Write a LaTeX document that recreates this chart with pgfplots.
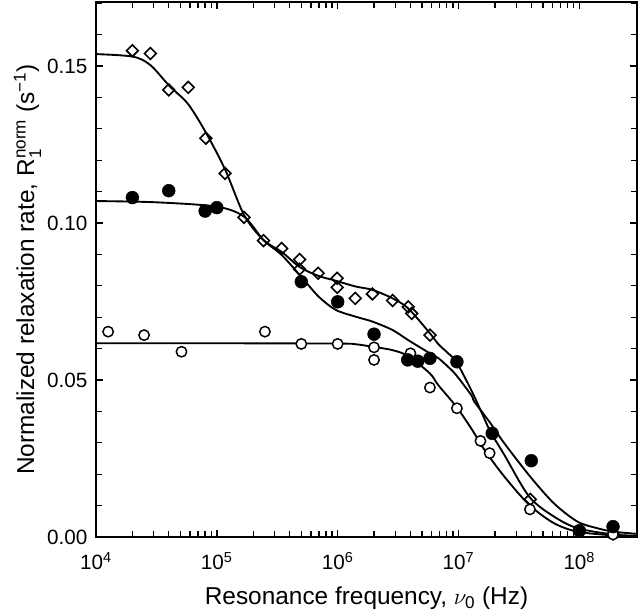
\documentclass[border=0pt]{standalone}
\usepackage{fontspec}
\setmainfont{Liberation Sans}
\usepackage{amsmath}
\usepackage{pgfplots}
\pgfplotsset{compat=1.18}
\usetikzlibrary{calc}

\pgfplotstableread{
f v
1e4 0.1538
2.018e4 0.1530
2.818e4 0.1503
4.064e4 0.1436
5.754e4 0.1380
8.147e4 0.1287
1.175e5 0.1169
1.683e5 0.1025
2.427e5 0.0946
3.443e5 0.0908
4.842e5 0.0860
6.887e5 0.0832
9.683e5 0.0816
1.4e6 0.0798
1.941e6 0.0787
2.851e6 0.0760
3.837e6 0.0728
5.794e6 0.0649
6.792e6 0.0615
8.204e6 0.0585
9.594e6 0.0558
1.274e7 0.0468
1.542e7 0.0399
1.841e7 0.0335
2.399e7 0.0261
3.855e7 0.0128
6.166e7 0.0065
9.638e7 0.0028
1.905e8 0.0008
3e8 0.0004
}\curveDiamond

\pgfplotstableread{
f v
1e4 0.1070
3.162e4 0.1066
1.005e5 0.1052
1.683e5 0.1020
2.427e5 0.0946
3.443e5 0.0898
4.989e5 0.0829
6.982e5 0.0765
9.683e5 0.0723
1.4e6 0.0702
1.941e6 0.0686
2.851e6 0.0659
3.837e6 0.0627
5.794e6 0.0585
6.792e6 0.0570
8.204e6 0.0542
9.594e6 0.0515
1.274e7 0.0452
1.358e7 0.0430
1.841e7 0.0362
2.399e7 0.0298
3.926e7 0.0192
6.166e7 0.0107
9.638e7 0.0049
1.406e8 0.0028
1.905e8 0.0017
3e8 0.0010
}\curveFilled

\pgfplotstableread{
f v
1e4 0.0617
1e5 0.0617
1e6 0.0616
1.4e6 0.0614
1.941e6 0.0606
2.851e6 0.0595
3.837e6 0.0576
5.794e6 0.0521
6.792e6 0.0484
9.594e6 0.0415
1.274e7 0.0346
1.644e7 0.0277
2.399e7 0.0192
3.855e7 0.0102
6.166e7 0.0044
9.638e7 0.0017
1.905e8 0.0005
3e8 0.0003
}\curveOpen

\pgfplotstableread{
f v
2.0e4 0.1549
2.82e4 0.1540
4.0e4 0.1424
5.8e4 0.1432
8.1e4 0.1270
1.17e5 0.1158
1.68e5 0.1018
2.43e5 0.0944
3.44e5 0.0919
4.84e5 0.0884
4.84e5 0.0853
6.9e5 0.0840
9.9e5 0.0824
9.9e5 0.0795
1.4e6 0.0760
1.94e6 0.0774
2.85e6 0.0753
3.84e6 0.0733
4.1e6 0.0712
5.8e6 0.0643
3.93e7 0.0120
1.9e8 0.0010
}\dataDiamond

\pgfplotstableread{
f v
2.0e4 0.1081
4.0e4 0.1103
8.0e4 0.1038
1.0e5 0.1049
5.0e5 0.0813
1.0e6 0.0749
2.0e6 0.0646
3.8e6 0.0564
4.6e6 0.0560
5.8e6 0.0569
9.7e6 0.0558
1.9e7 0.0330
4.0e7 0.0243
1.0e8 0.0020
1.9e8 0.0033
}\dataFilled

\pgfplotstableread{
f v
1.26e4 0.0654
2.5e4 0.0643
5.1e4 0.0590
2.5e5 0.0654
5.0e5 0.0615
1.0e6 0.0615
2.0e6 0.0604
2.0e6 0.0564
4.0e6 0.0585
5.8e6 0.0476
9.7e6 0.0410
1.52e7 0.0306
1.81e7 0.0267
3.9e7 0.0088
1.9e8 0.0008
}\dataOpen

\begin{document}
\begin{tikzpicture}
\begin{axis}[
  scale only axis,
  width=405.75pt, height=401.25pt,
  xmode=log, xmin=1e4, xmax=3e8,
  ymin=0, ymax=0.1704,
  xtick={1e4,1e5,1e6,1e7,1e8},
  xticklabels={10\textsuperscript{4},10\textsuperscript{5},10\textsuperscript{6},10\textsuperscript{7},10\textsuperscript{8}},
  ytick={0,0.05,0.10,0.15},
  yticklabels={0.00,0.05,0.10,0.15},
  minor ytick={0.01,0.02,0.03,0.04,0.06,0.07,0.08,0.09,0.11,0.12,0.13,0.14,0.16,0.17},
  font=\fontsize{18.3}{22}\selectfont,
  tick label style={font=\fontsize{15.5}{18}\selectfont},
  every tick/.style={black, line width=1pt},
  major tick length=5pt, minor tick length=4.5pt,
  axis line style={line width=1.5pt},
  xlabel={Resonance frequency, $\nu_{\text{0}}$ (Hz)},
  ylabel={Normalized relaxation rate, R$_{\text{1}}^{\text{norm}}$ (s$^{\text{−1}}$)},
  xlabel style={yshift=-6pt},
  ylabel style={yshift=-2.5pt},
  yticklabel style={xshift=-3pt},
  xticklabel style={yshift=-8pt},
]
\addplot[black, line width=1.4pt, smooth] table[x=f,y=v] {\curveDiamond};
\addplot[black, line width=1.4pt, smooth] table[x=f,y=v] {\curveFilled};
\addplot[black, line width=1.4pt, smooth] table[x=f,y=v] {\curveOpen};
\addplot[only marks, mark=square, mark size=3.1pt, mark options={rotate=45, draw=black, fill=white, line width=1.2pt}] table[x=f,y=v] {\dataDiamond};
\addplot[only marks, mark=*, mark size=3.9pt, mark options={draw=black, fill=white, line width=1.1pt}] table[x=f,y=v] {\dataOpen};
\addplot[only marks, mark=*, mark size=4.8pt, mark options={draw=black, fill=black}] table[x=f,y=v] {\dataFilled};
\end{axis}
\pgfresetboundingbox
\path[use as bounding box] ($(current axis.south west)+(-72pt,-59.25pt)$) rectangle ($(current axis.north east)+(2.25pt,1.5pt)$);
\end{tikzpicture}
\end{document}
